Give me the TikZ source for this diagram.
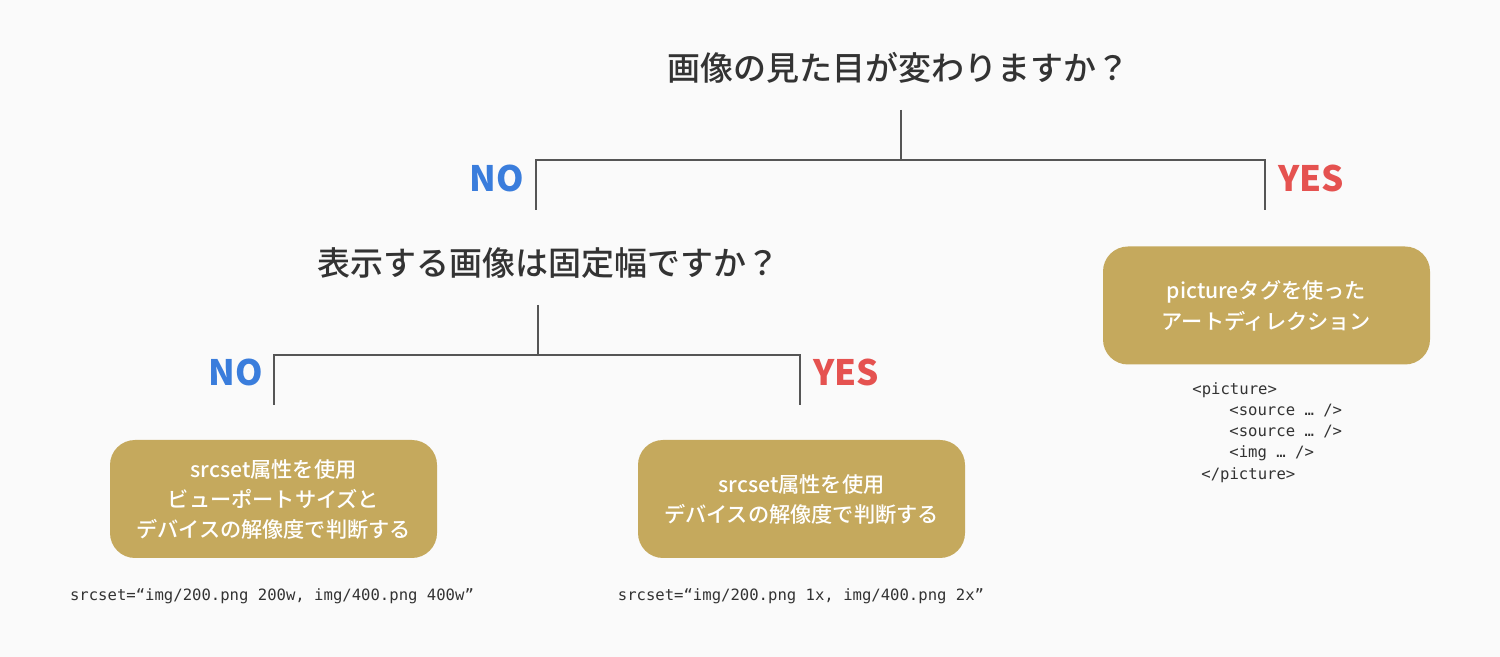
\documentclass[tikz,border=0pt]{standalone}
\usepackage{fontspec}
\setmainfont{Noto Sans CJK JP}
\newfontfamily\jpmed{Noto Sans CJK JP Medium}
\setmonofont{DejaVu Sans Mono}
\definecolor{bg}{RGB}{250,250,250}
\definecolor{gold}{RGB}{197,169,93}
\definecolor{noblue}{RGB}{58,125,220}
\definecolor{yesred}{RGB}{229,82,80}
\definecolor{linegray}{RGB}{85,85,85}
\definecolor{textdark}{RGB}{51,51,51}
\tikzset{
  question/.style={text=textdark, font=\jpmed\fontsize{16.5pt}{20pt}\selectfont, inner sep=0pt},
  nolabel/.style={text=noblue, font=\bfseries\fontsize{17.5pt}{20pt}\selectfont, inner sep=0pt},
  yeslabel/.style={text=yesred, font=\bfseries\fontsize{17.5pt}{20pt}\selectfont, inner sep=0pt},
  answer/.style={fill=gold, rounded corners=12.5pt, minimum width=163.5pt, minimum height=59pt,
    text=white, font=\jpmed\fontsize{10.6pt}{15pt}\selectfont, align=center, inner sep=0pt},
  code/.style={text=textdark, font=\ttfamily\fontsize{7.8pt}{10pt}\selectfont, inner sep=0pt},
  tree/.style={draw=linegray, line width=1pt},
}
\begin{document}
\begin{tikzpicture}[x=0.5pt,y=-0.5pt]
\fill[bg] (0,0) rectangle (1500,657);
\useasboundingbox (0,0) rectangle (1500,657);

% first question
\node[question] (q1) at (898,68) {画像の見た目が変わりますか？};
\coordinate (q1top) at (901,110);
\coordinate (q1mid) at (901,160);
\coordinate (q1l) at (536,160);
\coordinate (q1r) at (1265,160);
\coordinate (q1ld) at (536,210);
\coordinate (q1rd) at (1265,210);
\draw[tree] (q1top) -- (q1mid);
\draw[tree] (q1ld) -- (q1l) -- (q1r) -- (q1rd);
\node[nolabel] (no1) at (497,178) {NO};
\node[yeslabel] (yes1) at (1311,178) {YES};

% second question
\node[question] (q2) at (548,263) {表示する画像は固定幅ですか？};
\coordinate (q2top) at (538,305);
\coordinate (q2mid) at (538,355);
\coordinate (q2l) at (274,355);
\coordinate (q2r) at (800,355);
\coordinate (q2ld) at (274,405);
\coordinate (q2rd) at (800,405);
\draw[tree] (q2top) -- (q2mid);
\draw[tree] (q2ld) -- (q2l) -- (q2r) -- (q2rd);
\node[nolabel] (no2) at (236,372) {NO};
\node[yeslabel] (yes2) at (846,372) {YES};

% answers
\node[answer] (a1) at (273.5,499) {srcset属性を使用\\ビューポートサイズと\\デバイスの解像度で判断する};
\node[answer] (a2) at (801.5,499) {srcset属性を使用\\デバイスの解像度で判断する};
\node[answer, font=\jpmed\fontsize{10.6pt}{15.5pt}\selectfont] (a3) at (1266.5,305.5) {pictureタグを使った\\アートディレクション};

% code
\node[code] (c1) at (272,596) {srcset=“img/200.png 200w, img/400.png 400w”};
\node[code] (c2) at (801,596) {srcset=“img/200.png 1x, img/400.png 2x”};
\node[code, anchor=west] (p1) at (1192,390) {<picture>};
\node[code, anchor=west] (p2) at (1229,411) {<source … />};
\node[code, anchor=west] (p3) at (1229,432) {<source … />};
\node[code, anchor=west] (p4) at (1229,453) {<img … />};
\node[code, anchor=west] (p5) at (1201,475) {</picture>};
\end{tikzpicture}
\end{document}
